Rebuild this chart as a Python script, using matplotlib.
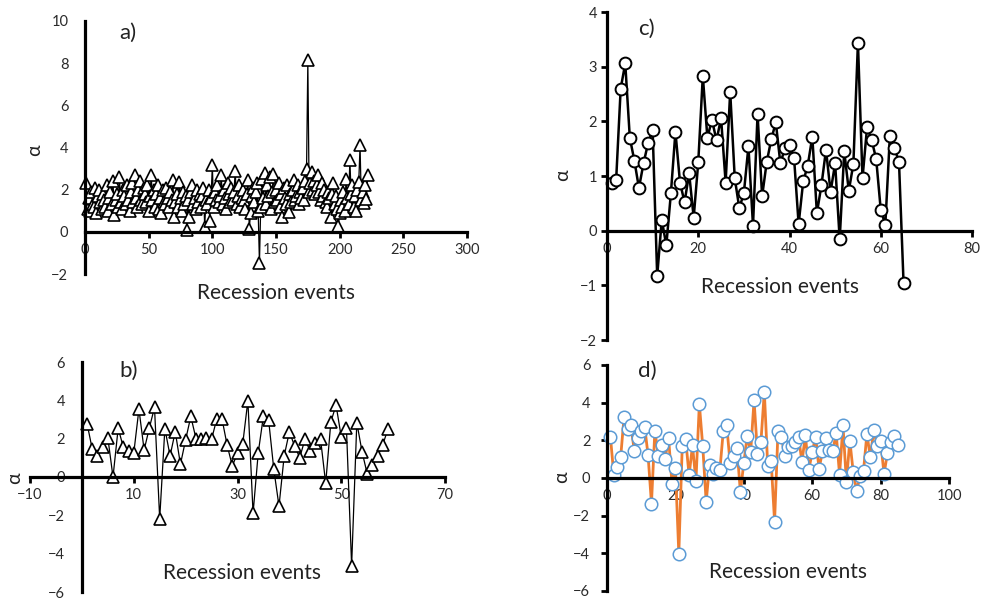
import matplotlib
matplotlib.use("Agg")
import matplotlib.pyplot as plt
import numpy as np

plt.rcParams['font.family'] = ['Lato', 'DejaVu Sans']

# ---- data -------------------------------------------------------------
alpha_a = [
    2.3, 1.1, 1.6, 1.0, 1.9, 1.3, 1.2, 2.1, 0.9, 1.7,
    2.0, 1.4, 1.1, 1.8, 1.5, 1.2, 2.2, 1.0, 1.6, 1.9,
    1.3, 2.4, 0.8, 1.5, 1.8, 1.2, 2.6, 1.4, 1.1, 2.0,
    1.7, 1.3, 2.2, 1.5, 1.0, 1.9, 2.3, 1.4, 2.7, 1.6,
    1.2, 2.0, 2.4, 1.5, 1.3, 2.1, 1.8, 1.4, 2.2, 1.0,
    1.7, 2.7, 1.5, 2.0, 1.2, 1.8, 2.2, 1.1, 1.6, 0.9,
    2.0, 1.4, 1.3, 2.1, 1.6, 1.2, 1.9, 1.5, 2.45, 0.7,
    1.4, 1.8, 1.2, 2.37, 1.6, 1.0, 1.9, 1.3, 1.7, 0.1,
    1.5, 0.7, 1.9, 2.2, 1.3, 1.6, 1.1, 2.0, 1.4, 1.8,
    1.2, 1.7, 2.1, 0.25, 1.5, 1.3, 2.0, 0.5, 1.6, 3.15,
    1.2, 1.9, 1.5, 2.2, 1.4, 1.7, 2.7, 1.3, 2.0, 1.6,
    1.1, 2.3, 1.8, 1.4, 2.1, 1.5, 1.9, 2.9, 1.3, 1.7,
    2.2, 1.2, 1.6, 2.0, 1.5, 1.1, 1.8, 2.45, 0.15, 0.87,
    1.7, 2.1, 1.4, 1.9, 2.3, 1.0, -1.5, 1.2, 2.5, 1.6,
    2.8, 1.3, 2.2, 1.7, 2.6, 1.1, 1.9, 2.75, 1.4, 2.0,
    1.5, 2.3, 1.2, 1.8, 0.7, 2.1, 1.6, 1.3, 2.2, 0.95,
    1.8, 1.4, 2.0, 2.45, 1.5, 1.7, 2.2, 1.3, 1.9, 1.6,
    2.1, 1.5, 2.4, 3.0, 8.13, 1.9, 2.3, 2.85, 2.0, 2.4,
    1.8, 2.2, 2.7, 1.9, 1.5, 2.3, 1.7, 2.0, 1.4, 1.2,
    1.9, 1.6, 0.7, 1.8, 2.3, 1.3, 1.7, 1.1, 0.3, 0.87,
    1.5, 1.2, 1.9, 1.0, 2.5, 1.6, 1.3, 3.43, 1.8, 2.2,
    1.2, 1.7, 1.0, 2.0, 2.37, 4.1, 1.5, 1.9, 1.35, 2.2,
    1.58, 2.7,
]

alpha_b = [
    2.79, 1.45, 1.10, 1.59, 2.06, 0.00, 2.55, 1.54, 1.36, 1.24,
    3.54, 1.41, 2.55, 3.63, -2.18, 2.53, 1.10, 2.37, 0.66, 1.94,
    3.16, 2.00, 2.00, 2.06, 1.97, 3.02, 3.05, 1.66, 0.58, 1.24,
    1.71, 3.98, -1.90, 1.27, 3.19, 2.97, 0.40, -1.52, 1.10, 2.36,
    1.62, 1.01, 1.97, 1.36, 1.75, 2.00, -0.33, 2.88, 3.75, 2.09,
    2.55, -4.62, 2.84, 1.33, 0.17, 0.63, 1.08, 1.68, 2.50,
]

alpha_c = [
    0.88, 0.92, 2.60, 3.06, 1.70, 1.28, 0.78, 1.23, 1.60, 1.84,
    -0.83, 0.20, -0.27, 0.68, 1.81, 0.88, 0.52, 1.05, 0.24, 1.25,
    2.83, 1.70, 2.03, 1.65, 2.06, 0.88, 2.54, 0.96, 0.41, 0.69,
    1.54, 0.09, 2.13, 0.63, 1.25, 1.67, 1.98, 1.23, 1.51, 1.56,
    1.33, 0.12, 0.90, 1.19, 1.72, 0.32, 0.83, 1.48, 0.71, 1.23,
    -0.16, 1.45, 0.73, 1.22, 3.44, 0.96, 1.89, 1.66, 1.31, 0.38,
    0.11, 1.73, 1.52, 1.25, -0.96,
]

alpha_d = [
    2.20, 0.14, 0.58, 1.11, 3.26, 2.59, 2.79, 1.41, 2.12, 2.47,
    2.73, 1.23, -1.36, 2.52, 1.15, 1.76, 1.02, 2.15, -0.30, 0.53,
    -4.02, 1.68, 2.06, 0.14, 1.73, -0.18, 3.93, 1.68, -1.27, 0.71,
    0.21, 0.53, 0.41, 2.50, 2.79, 0.79, 1.15, 1.59, -0.74, 0.79,
    2.24, 1.36, 4.14, 1.29, 1.89, 4.59, 0.62, 0.88, -2.33, 2.52,
    2.20, 1.15, 1.62, 1.68, 1.89, 2.20, 0.85, 2.26, 0.44, 1.36,
    2.20, 0.48, 1.41, 2.12, 1.50, 1.41, 2.38, 0.18, 2.79, -0.21,
    1.99, 0.30, -0.67, 0.09, 0.37, 2.35, 1.09, 2.56, 1.71, 1.99,
    0.21, 1.32, 1.89, 2.24, 1.73,
]

xticks_a = [0, 50, 100, 150, 200, 250, 300]
yticks_a = [-2, 0, 2, 4, 6, 8, 10]
xticks_b = [-10, 10, 30, 50, 70]
yticks_b = [-6, -4, -2, 0, 2, 4, 6]
xticks_c = [0, 20, 40, 60, 80]
yticks_c = [-2, -1, 0, 1, 2, 3, 4]
xticks_d = [0, 20, 40, 60, 80, 100]
yticks_d = [-6, -4, -2, 0, 2, 4, 6]

ylabel = "α"
xlabel = "Recession events"

# ---- figure -----------------------------------------------------------
W, H = 981, 604
fig = plt.figure(figsize=(W / 100, H / 100), dpi=100)


def place(x0, x1, ytop, ybot):
    return fig.add_axes([x0 / W, 1 - ybot / H, (x1 - x0) / W, (ybot - ytop) / H])


def style(ax, xlim, ylim, xt, yt, ytick_len, ypad):
    ax.set_xlim(*xlim)
    ax.set_ylim(*ylim)
    ax.set_facecolor('none')
    for s in ('top', 'right'):
        ax.spines[s].set_visible(False)
    ax.spines['left'].set_position(('data', 0))
    ax.spines['bottom'].set_position(('data', 0))
    for s in ('left', 'bottom'):
        ax.spines[s].set_linewidth(2.3)
        ax.spines[s].set_color('black')
    ax.set_xticks(xt)
    ax.set_yticks(yt)
    ax.tick_params(axis='x', direction='out', length=4, width=2, pad=4,
                   labelsize=10.5, colors='black')
    ax.tick_params(axis='y', direction='out', length=ytick_len, width=2,
                   pad=ypad, labelsize=10.5, colors='black')
    for lab in ax.get_xticklabels() + ax.get_yticklabels():
        lab.set_color('#2a2a2a')


def ftext(x, y, s, **kw):
    fig.text(x / W, 1 - y / H, s, ha='center', va='center', **kw)


# a)
ax_a = place(85, 467, 21, 274)
xa = np.arange(1, len(alpha_a) + 1)
ax_a.plot(xa, alpha_a, color='black', lw=0.9, marker='^', ms=8.5,
          mfc='white', mec='black', mew=1.2, clip_on=False)
style(ax_a, (0, 300), (-2, 10), xticks_a, yticks_a, 0, 12)

# b)
ax_b = place(30, 445, 362, 592)
xb = np.arange(1, len(alpha_b) + 1)
ax_b.plot(xb, alpha_b, color='black', lw=0.9, marker='^', ms=8.5,
          mfc='white', mec='black', mew=1.2, clip_on=False)
style(ax_b, (-10, 70), (-6, 6), xticks_b, yticks_b, 0, 12)

# c)
ax_c = place(607, 972, 12, 340)
xc = np.arange(1, len(alpha_c) + 1)
ax_c.plot(xc, alpha_c, color='black', lw=1.8, marker='o', ms=8.5,
          mfc='white', mec='black', mew=1.4, clip_on=False)
style(ax_c, (0, 80), (-2, 4), xticks_c, yticks_c, 4, 3)

# d)
ax_d = place(607, 949, 365, 591)
xd = np.arange(1, len(alpha_d) + 1)
ax_d.plot(xd, alpha_d, color='#ED7D31', lw=2.0, marker='o', ms=9,
          mfc='white', mec='#5B9BD5', mew=1.1, clip_on=False)
style(ax_d, (0, 100), (-6, 6), xticks_d, yticks_d, 4, 8)

# axis titles and panel letters
for (x, y) in [(35, 150), (15, 478), (563, 175), (562, 477)]:
    ftext(x, y, ylabel, fontsize=14, rotation=90, color='#222222')
for (x, y) in [(276, 293), (242, 573), (780, 287), (788, 572)]:
    ftext(x, y, xlabel, fontsize=15, color='#222222')
for (x, y, s) in [(128, 33, 'a)'), (129, 371, 'b)'), (646, 29, 'c)'), (647, 371, 'd)')]:
    ftext(x, y, s, fontsize=16, color='#222222')

fig.savefig('out.png', dpi=100)
